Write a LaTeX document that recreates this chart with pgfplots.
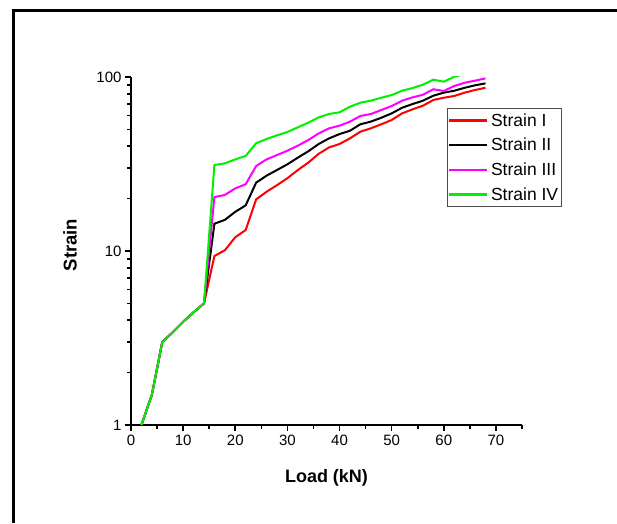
\documentclass[border=0pt]{standalone}
\usepackage{pgfplots}
\pgfplotsset{compat=1.18}
\usepackage{fontspec}
\setmainfont{Liberation Sans}
\definecolor{cred}{RGB}{255,0,0}
\definecolor{cmag}{RGB}{255,0,255}
\definecolor{cgreen}{RGB}{0,240,0}
\begin{document}
\begin{tikzpicture}[x=1pt,y=1pt]
\useasboundingbox (-131,-98) rectangle (486,425);
\draw[line width=2.5pt] (-117.5,-98) -- (-117.5,414.5) -- (486,414.5);
\begin{axis}[at={(0,0)}, anchor=south west, scale only axis,
  width=391pt, height=348pt,
  xmin=0, xmax=75, ymin=1, ymax=100, ymode=log,
  axis x line*=bottom, axis y line*=left,
  axis line style={line width=2pt,-},
  xtick={0,10,...,70}, minor xtick={5,15,...,75},
  ytick={1,10,100},
  tick align=outside, major tick length=6pt, minor tick length=4pt,
  every tick/.style={black, line width=1.6pt},
  ticklabel style={font=\fontsize{15}{17}\selectfont},
  /pgf/number format/assume math mode=true,
  log ticks with fixed point,
  xlabel={\textbf{Load (kN)}}, ylabel={\textbf{Strain}},
  xlabel style={font=\fontsize{18}{20}\selectfont, at={(axis description cs:0.5,-0.152)}, anchor=center},
  ylabel style={font=\fontsize{18.5}{20}\selectfont, at={(axis description cs:-0.156,0.517)}, anchor=center},
  legend style={at={(axis description cs:0.808,0.911)}, anchor=north west,
    draw=black!70, line width=0.8pt, font=\fontsize{17.5}{20}\selectfont,
    inner xsep=1pt, inner ysep=2.5pt, row sep=5.5pt,
    nodes={inner sep=2.5pt}},
  legend cell align=left,
  legend image code/.code={\draw[#1, line width=2.2pt] (0pt,0pt) -- (38pt,0pt);},
]
\addplot[cred, line width=2pt] coordinates {
(2,1) (4,1.49) (6,3.0) (8,3.41) (10,3.92) (12,4.44) (14,5.0)
(16,9.36) (18,10.1) (20,12.0) (22,13.2) (24,19.8) (26,21.9) (28,23.9) (30,26.2)
(32,29.2) (34,32.2) (36,36.2) (38,39.4) (40,41.2) (42,44.4) (44,48.5) (46,50.7)
(48,53.5) (50,56.6) (52,61.8) (54,65.2) (56,68.4) (58,73.8) (60,76.0) (62,77.8)
(64,81.3) (66,84.2) (68,86.7)};
\addlegendentry{Strain I}
\addplot[black, line width=2pt] coordinates {
(2,1) (4,1.49) (6,3.0) (8,3.41) (10,3.92) (12,4.44) (14,5.0)
(16,14.35) (18,15.1) (20,16.8) (22,18.3) (24,24.7) (26,27.1) (28,29.2) (30,31.5)
(32,34.4) (34,37.4) (36,41.2) (38,44.4) (40,47.0) (42,49.1) (44,53.5) (46,55.4)
(48,58.3) (50,61.8) (52,66.6) (54,69.9) (56,73.1) (58,78.1) (60,81.3) (62,83.4)
(64,86.7) (66,89.6) (68,91.9)};
\addlegendentry{Strain II}
\addplot[cmag, line width=2pt] coordinates {
(2,1) (4,1.49) (6,3.0) (8,3.41) (10,3.92) (12,4.44) (14,5.0)
(16,20.4) (18,21.0) (20,22.9) (22,24.2) (24,30.8) (26,33.6) (28,35.6) (30,37.7)
(32,40.3) (34,43.4) (36,47.4) (38,50.7) (40,52.5) (42,55.4) (44,59.7) (46,61.3)
(48,64.6) (50,68.1) (52,73.1) (54,76.4) (56,79.1) (58,85.0) (60,83.1) (62,88.8)
(64,92.7) (66,95.3) (68,98.2)};
\addlegendentry{Strain III}
\addplot[cgreen, line width=2pt] coordinates {
(2,1) (4,1.49) (6,3.0) (8,3.41) (10,3.92) (12,4.44) (14,5.0)
(16,31.2) (18,31.9) (20,33.6) (22,35.2) (24,41.6) (26,44.0) (28,46.2) (30,48.3)
(32,51.4) (34,54.6) (36,58.6) (38,61.3) (40,62.7) (42,67.5) (44,71.2) (46,73.1)
(48,76.0) (50,78.8) (52,83.4) (54,86.4) (56,90.3) (58,96.5) (60,94.0) (62,100.3)
(64,104) (66,108) (68,112)};
\addlegendentry{Strain IV}
\end{axis}
\end{tikzpicture}
\end{document}
